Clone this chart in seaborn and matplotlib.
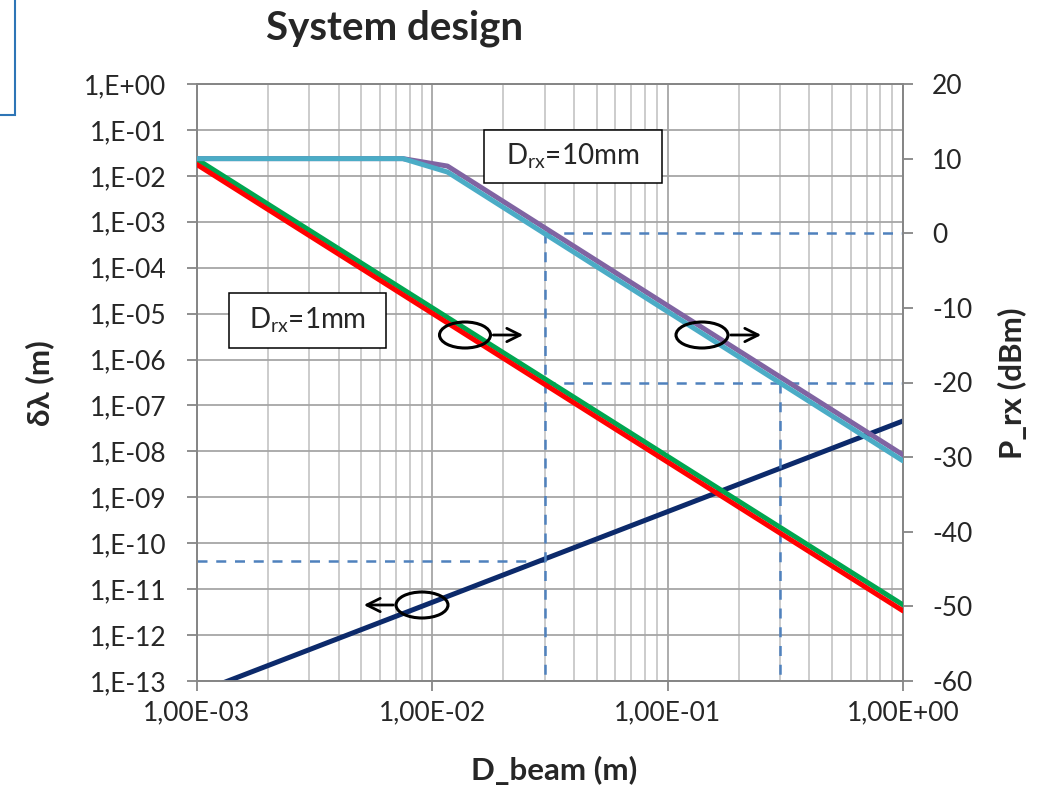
import numpy as np
import pandas as pd
import seaborn as sns
import matplotlib
matplotlib.use("Agg")
import matplotlib.pyplot as plt
from matplotlib.patches import Ellipse, Rectangle, FancyArrowPatch
from matplotlib.ticker import FixedLocator, FixedFormatter, LogLocator, NullFormatter

sns.set_style("white")
plt.rcParams["font.family"] = ["Lato", "DejaVu Sans"]
plt.rcParams["mathtext.fontset"] = "custom"
plt.rcParams["mathtext.rm"] = "Lato"
plt.rcParams["axes.unicode_minus"] = False

# Wavelength tolerance (left axis) versus beam diameter
d_beam_lambda = [1e-3, 1.0]
delta_lambda = [5.5e-14, 4.6e-8]

# Received power (right axis), 1 mm receiver
d_beam_1mm = [1e-3, 1.0]
p_rx_1mm_a = [9.2, -50.6]     # red
p_rx_1mm_b = [9.9, -49.8]     # green

# Received power (right axis), 10 mm receiver
d_beam_10mm = [1e-3, 7.5e-3, 1.16e-2, 1.0]
p_rx_10mm_a = [10.0, 10.0, 9.0, -29.7]   # purple
p_rx_10mm_b = [10.0, 10.0, 8.2, -30.5]   # cyan

# Design points
d_design = [0.03, 0.3]
p_design = [0.0, -20.0]
lambda_design = 4.2e-11

left_ticks = [10.0 ** -k for k in range(0, 14)]
left_labels = ["1,E+00"] + ["1,E-%02d" % k for k in range(1, 14)]
x_ticks = [1e-3, 1e-2, 1e-1, 1.0]
x_labels = ["1,00E-03", "1,00E-02", "1,00E-01", "1,00E+00"]
right_ticks = [20, 10, 0, -10, -20, -30, -40, -50, -60]

W, H = 1045, 790
fig = plt.figure(figsize=(W / 100, H / 100), dpi=100)
ax = fig.add_axes([197 / W, 1 - 681 / H, (903 - 197) / W, (681 - 84) / H])
ax2 = ax.twinx()

grid_major = "#a6a6a6"
grid_minor = "#c8c8c8"
spine_c = "#868686"
tick_fs = 19

# left axis
ax.set_xscale("log")
ax.set_yscale("log")
ax.set_xlim(1e-3, 1.0)
ax.set_ylim(1e-13, 1.0)
ax.yaxis.set_major_locator(FixedLocator(left_ticks))
ax.yaxis.set_major_formatter(FixedFormatter(left_labels))
ax.yaxis.set_minor_locator(FixedLocator([]))
ax.xaxis.set_major_locator(FixedLocator(x_ticks))
ax.xaxis.set_major_formatter(FixedFormatter(x_labels))
ax.xaxis.set_minor_locator(LogLocator(base=10, subs=np.arange(2, 10)))
ax.xaxis.set_minor_formatter(NullFormatter())
ax.grid(True, which="major", axis="both", color=grid_major, lw=1.3)
ax.grid(True, which="minor", axis="x", color=grid_minor, lw=1.3)
ax.set_axisbelow(True)
ax.tick_params(axis="both", which="major", direction="out", length=7, width=1.3,
               color=spine_c, labelsize=tick_fs, left=True, bottom=True)
ax.tick_params(axis="y", pad=15)
ax.tick_params(axis="x", pad=7)
ax.tick_params(axis="x", which="minor", length=0)

ax2.set_ylim(-60, 20)
ax2.yaxis.set_major_locator(FixedLocator(right_ticks))
ax2.tick_params(axis="y", direction="out", length=7, width=1.3, color=spine_c,
                labelsize=tick_fs, pad=14, right=True)
for a in (ax, ax2):
    for s in a.spines.values():
        s.set_color(spine_c)
        s.set_linewidth(1.3)

dash_c = "#4f81bd"
dash_kw = dict(color=dash_c, lw=1.8, ls=(0, (4, 3.5)), zorder=1)

# design-point guides
ax.plot([1e-3, d_design[0]], [lambda_design, lambda_design], **dash_kw)
ax2.plot([d_design[0], 1.0], [p_design[0], p_design[0]], **dash_kw)
ax2.plot([d_design[0], d_design[0]], [p_design[0], -60], **dash_kw)
ax2.plot([d_design[0], 1.0], [p_design[1], p_design[1]], **dash_kw)
ax2.plot([d_design[1], d_design[1]], [p_design[1], -60], **dash_kw)

lw = 3.6
sns.lineplot(x=d_beam_lambda, y=delta_lambda, ax=ax, color="#0c2a6b", lw=lw,
             solid_capstyle="butt", zorder=3)
sns.lineplot(x=d_beam_1mm, y=p_rx_1mm_b, ax=ax2, color="#00a650", lw=lw,
             solid_capstyle="round", zorder=3)
sns.lineplot(x=d_beam_1mm, y=p_rx_1mm_a, ax=ax2, color="#ff0000", lw=lw,
             solid_capstyle="round", zorder=4)
sns.lineplot(x=d_beam_10mm, y=p_rx_10mm_a, ax=ax2, color="#8064a2", lw=lw,
             solid_capstyle="round", zorder=3)
sns.lineplot(x=d_beam_10mm, y=p_rx_10mm_b, ax=ax2, color="#4bacc6", lw=lw,
             solid_capstyle="round", zorder=4)
ax.set_xlabel("")
ax.set_ylabel("")
ax2.set_ylabel("")
ax.set_xlim(1e-3, 1.0)

# axis titles
fig.text(395 / W, 1 - 28 / H, "System design", ha="center", va="center",
         fontsize=29, fontweight="bold")
fig.text(554 / W, 1 - 770 / H, "D_beam (m)", ha="center", va="center",
         fontsize=22.5, fontweight="bold")
fig.text(40 / W, 1 - 383 / H, "δλ (m)", ha="center", va="center",
         fontsize=22.5, fontweight="bold", rotation=90)
fig.text(1012 / W, 1 - 383 / H, "P_rx (dBm)", ha="center", va="center",
         fontsize=22.5, fontweight="bold", rotation=90)

# receiver labels
def label_box(x0, y0, x1, y1, txt):
    fig.patches.append(Rectangle((x0 / W, 1 - y1 / H), (x1 - x0) / W, (y1 - y0) / H,
                                 transform=fig.transFigure, facecolor="white",
                                 edgecolor="black", lw=1.1, zorder=10))
    fig.text((x0 + x1) / 2 / W, 1 - (y0 + y1) / 2 / H, txt, ha="center",
             va="center", fontsize=20, zorder=11)

label_box(484, 130, 662, 183, r"D$_{\mathrm{rx}}$=10mm")
label_box(229, 293, 386, 348, r"D$_{\mathrm{rx}}$=1mm")

# axis-pointer markers
def pointer(cx, cy, w, h, x_end):
    fig.patches.append(Ellipse((cx / W, 1 - cy / H), w / W, h / H,
                               transform=fig.transFigure, facecolor="none",
                               edgecolor="black", lw=2.2, zorder=10))
    x_start = cx + w / 2 if x_end > cx else cx - w / 2
    fig.patches.append(FancyArrowPatch((x_start / W, 1 - cy / H), (x_end / W, 1 - cy / H),
                                       transform=fig.transFigure, arrowstyle="->",
                                       mutation_scale=24, color="black", lw=2.0,
                                       zorder=10))

pointer(465, 335, 51, 26, 526)
pointer(702, 335, 52, 26, 764)
pointer(422, 605, 52, 26, 361)

# panel edge at top-left
fig.patches.append(Rectangle((-10 / W, 1 - 115 / H), 25 / W, 125 / H,
                             transform=fig.transFigure, facecolor="none",
                             edgecolor="#2e75b6", lw=1.5))

fig.savefig("out.png", dpi=100)
